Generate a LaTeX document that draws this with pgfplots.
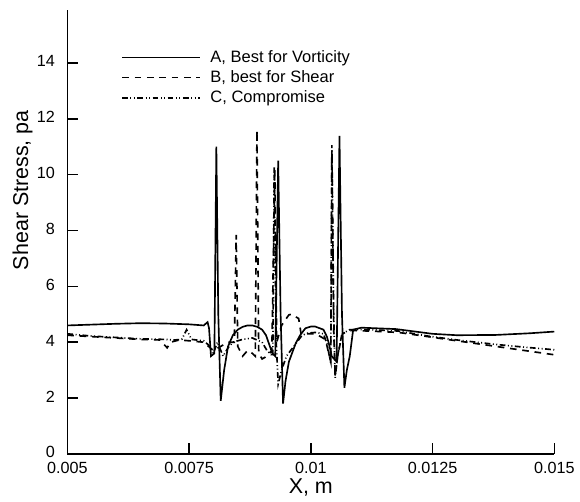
\documentclass[border=0pt]{standalone}
\usepackage{fontspec}
\setmainfont{Liberation Sans}
\usepackage{pgfplots}
\pgfplotsset{compat=1.18}

\begin{document}
\begin{tikzpicture}
\begin{axis}[
    scale only axis,
    width=295pt, height=269pt,
    xmin=0.005, xmax=0.015, ymin=0, ymax=15.9,
    axis lines=left, axis line style={-, line width=1pt},
    scaled x ticks=false,
    xtick={0.005,0.0075,0.01,0.0125,0.015},
    xticklabels={0.005,0.0075,0.01,0.0125,0.015},
    ytick={0,2,4,6,8,10,12,14},
    tick align=inside, major tick length=6.5pt,
    tick style={line width=0.9pt, black},
    /pgf/number format/assume math mode=true,
    ticklabel style={font=\fontsize{9.8}{11}\selectfont},
    yticklabel style={xshift=-4pt, yshift=1pt},
    xticklabel style={yshift=-1.5pt},
    xlabel={X, m}, ylabel={Shear Stress, pa},
    label style={font=\fontsize{13}{15}\selectfont},
    xlabel style={yshift=4pt},
    ylabel style={at={(axis description cs:-0.092,0.594)}, anchor=center},
    legend style={draw=none, fill=none, at={(rel axis cs:0.1,0.925)}, anchor=north west,
        font=\fontsize{10}{12}\selectfont, row sep=-0.5pt},
    legend cell align=left,
    legend image code/.code={\draw[#1] (0pt,0pt) -- (47pt,0pt); \path (51pt,0pt);},
    every axis plot/.append style={black, line width=1pt},
    extra description/.code={
        \path (rel axis cs:0,1) ++(-40.8pt,6pt);
        \path (rel axis cs:1,0) ++(12pt,-24.3pt);
    },
]
% A, best for vorticity
\addplot[solid] coordinates {
(0.005,4.6) (0.0055,4.63) (0.006,4.66) (0.0065,4.68) (0.007,4.67) (0.0075,4.64)
(0.0078,4.6) (0.00788,4.72) (0.00791,4.5) (0.00795,3.5) (0.00802,3.6) (0.00806,11.0)
(0.0081,5.0) (0.00815,1.9) (0.00822,3.0) (0.0083,3.85) (0.0084,4.25) (0.0085,4.45)
(0.0086,4.55) (0.0087,4.6) (0.0088,4.6) (0.0089,4.55) (0.009,4.45) (0.00908,4.25)
(0.00915,3.9) (0.00921,3.6) (0.00927,3.5) (0.00933,10.5) (0.00938,5.0) (0.00943,1.8)
(0.00948,2.6) (0.00955,3.3) (0.00969,3.96) (0.00978,4.25) (0.00989,4.5) (0.01,4.56)
(0.01009,4.56) (0.01026,4.45) (0.01033,4.2) (0.01037,3.96) (0.01043,3.5) (0.01053,3.3)
(0.010589,11.39) (0.01064,5.0) (0.01069,2.37) (0.01074,3.0) (0.0108,3.5) (0.01087,4.45)
(0.01104,4.52) (0.01175,4.47) (0.0125,4.3) (0.013,4.25) (0.0138,4.26) (0.0145,4.32) (0.015,4.38)
};
\addlegendentry{A, Best for Vorticity}
% B, best for shear
\addplot[dash pattern=on 4pt off 3.5pt] coordinates {
(0.005,4.25) (0.0055,4.2) (0.006,4.15) (0.0065,4.1) (0.0069,4.08) (0.00705,3.8)
(0.00712,4.0) (0.0073,4.08) (0.0075,4.05) (0.0078,4.0) (0.008,3.7) (0.0082,3.9)
(0.0083,4.0) (0.00843,4.0) (0.008468,7.84) (0.0085,3.85) (0.0086,3.5) (0.0087,3.7)
(0.0088,3.6) (0.00886,3.5) (0.008894,11.59) (0.00893,3.6) (0.009,3.4) (0.0091,3.5)
(0.0092,3.7) (0.00926,10.2) (0.0093,4.0) (0.0094,4.6) (0.00955,4.98) (0.0096,5.0)
(0.0097,4.9) (0.00975,4.85) (0.0098,4.3) (0.0101,4.3) (0.0103,4.1) (0.01041,3.3)
(0.010433,10.9) (0.01047,4.5) (0.0105,2.8) (0.01056,3.6) (0.01065,4.3) (0.0108,4.42)
(0.0112,4.4) (0.0118,4.35) (0.0124,4.2) (0.013,4.05) (0.0138,3.85) (0.0144,3.7) (0.015,3.55)
};
\addlegendentry{B, best for Shear}
% C, compromise
\addplot[dash pattern=on 3.5pt off 1.5pt on 0.6pt off 1.5pt on 0.6pt off 1.5pt] coordinates {
(0.005,4.3) (0.0055,4.22) (0.006,4.17) (0.0065,4.12) (0.007,4.1) (0.0072,4.08)
(0.00735,4.1) (0.00745,4.45) (0.00755,4.1) (0.0078,4.05) (0.0079,3.9) (0.008,3.6)
(0.00808,4.0) (0.0082,3.5) (0.0083,3.8) (0.0084,4.0) (0.0086,4.1) (0.0088,4.15)
(0.009,4.0) (0.0091,3.7) (0.00922,3.5) (0.009248,10.3) (0.00929,4.0) (0.00933,2.5)
(0.0094,3.0) (0.0095,3.5) (0.00965,3.85) (0.0098,4.2) (0.0099,4.32) (0.0101,4.35)
(0.01026,4.3) (0.01034,3.9) (0.01037,3.6) (0.01041,3.26) (0.010433,11.06) (0.01047,5.0)
(0.0105,2.72) (0.01055,3.5) (0.01064,4.3) (0.0108,4.45) (0.0112,4.45) (0.0118,4.4)
(0.0124,4.22) (0.013,4.08) (0.0138,3.92) (0.0144,3.82) (0.015,3.73)
};
\addlegendentry{C, Compromise}
\end{axis}
\end{tikzpicture}
\end{document}
